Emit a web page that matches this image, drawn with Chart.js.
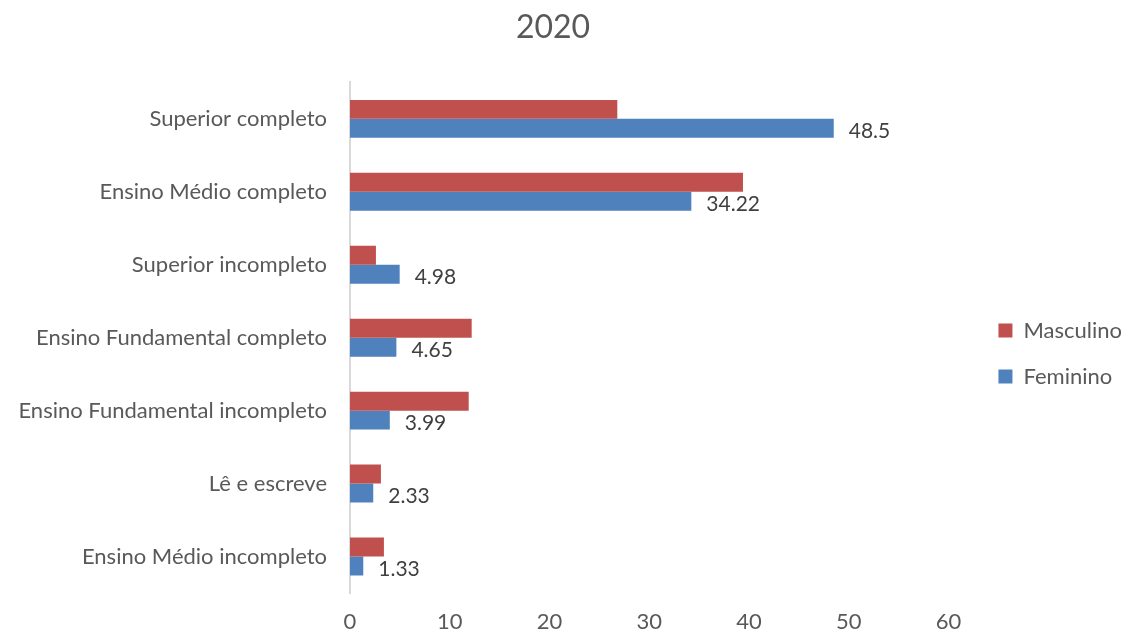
<!DOCTYPE html>
<html>
<head>
<meta charset="utf-8">
<title>2020</title>
<script src="https://cdn.jsdelivr.net/npm/chart.js"></script>
<style>
body { margin: 0; background: #fff; }
#chartContainer { width: 1128px; height: 637px; }
</style>
</head>
<body>
  <div id="chartContainer">
    <canvas id="myChart" width="1128" height="637"></canvas>
  </div>

  <script>
  const categories = [
    'Superior completo',
    'Ensino Médio completo',
    'Superior incompleto',
    'Ensino Fundamental completo',
    'Ensino Fundamental incompleto',
    'Lê e escreve',
    'Ensino Médio incompleto'
  ];
  const masculino = [26.8, 39.4, 2.6, 12.2, 11.9, 3.1, 3.4];
  const feminino = [48.5, 34.22, 4.98, 4.65, 3.99, 2.33, 1.33];
  const xTicks = [0, 10, 20, 30, 40, 50, 60];

  const fontFamily = 'Lato, "Open Sans", sans-serif';

  // value labels beside the Feminino bars only
  const femLabels = {
    id: 'femLabels',
    afterDatasetsDraw(chart) {
      const ctx = chart.ctx;
      const meta = chart.getDatasetMeta(1);
      ctx.save();
      ctx.font = '21px ' + fontFamily;
      ctx.fillStyle = '#404040';
      ctx.textAlign = 'left';
      ctx.textBaseline = 'middle';
      meta.data.forEach((bar, i) => {
        ctx.fillText(String(feminino[i]), bar.x + 15, bar.y + 3);
      });
      ctx.restore();
    }
  };

  // nudge the legend a bit right and down, like the original
  const legendNudge = {
    id: 'legendNudge',
    afterLayout(chart) {
      const lg = chart.legend;
      if (!lg) return;
      lg.left += 26;
      lg.right += 26;
      lg.top += 35;
      lg.bottom += 35;
    }
  };

  const ctx = document.getElementById('myChart').getContext('2d');
  new Chart(ctx, {
    type: 'bar',
    data: {
      labels: categories,
      datasets: [
        {
          label: 'Masculino',
          data: masculino,
          backgroundColor: '#C0504D',
          categoryPercentage: 0.52,
          barPercentage: 1.0
        },
        {
          label: 'Feminino',
          data: feminino,
          backgroundColor: '#4F81BD',
          categoryPercentage: 0.52,
          barPercentage: 1.0
        }
      ]
    },
    options: {
      indexAxis: 'y',
      responsive: false,
      animation: false,
      layout: { padding: { left: 0, right: 22, top: 0, bottom: 0 } },
      plugins: {
        title: {
          display: true,
          text: '2020',
          color: '#595959',
          font: { family: fontFamily, size: 32, weight: 'normal' },
          padding: { top: 8, bottom: 36 }
        },
        legend: {
          position: 'right',
          labels: {
            color: '#595959',
            font: { family: fontFamily, size: 22 },
            boxWidth: 14,
            boxHeight: 14,
            padding: 24
          }
        },
        tooltip: { enabled: false }
      },
      scales: {
        x: {
          min: 0,
          max: 60,
          afterBuildTicks(scale) {
            scale.ticks = xTicks.map(v => ({ value: v }));
          },
          afterFit(scale) {
            scale.height = 44;
          },
          grid: { display: false, drawTicks: false },
          border: { display: false },
          ticks: {
            color: '#595959',
            padding: 16,
            maxRotation: 0,
            font: { family: fontFamily, size: 22 }
          }
        },
        y: {
          afterFit(scale) {
            scale.width = 350;
          },
          grid: { display: false, drawTicks: false },
          border: { display: true, color: '#d9d9d9', width: 2 },
          ticks: {
            color: '#595959',
            padding: 23,
            font: { family: fontFamily, size: 22 }
          }
        }
      }
    },
    plugins: [femLabels, legendNudge]
  });
  </script>
</body>
</html>
